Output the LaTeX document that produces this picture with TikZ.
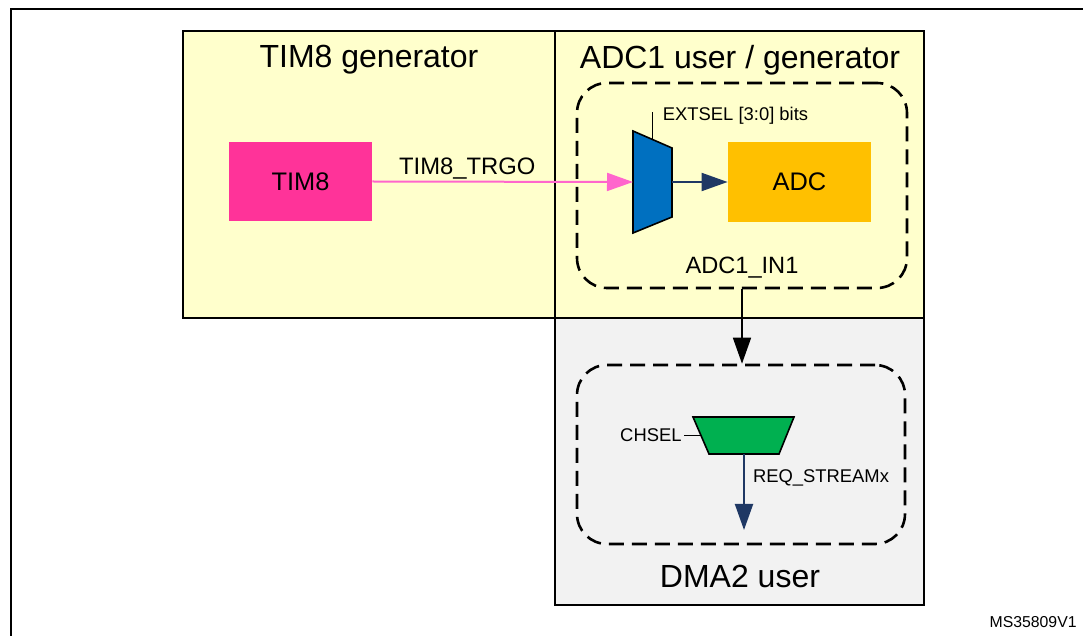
\documentclass[tikz,border=0pt]{standalone}
\usepackage{fontspec}
\setmainfont{Liberation Sans}
\usepackage{tikz}
\usetikzlibrary{positioning,arrows.meta}
\definecolor{panelyellow}{HTML}{FFFFCC}
\definecolor{panelgray}{HTML}{F2F2F2}
\definecolor{timpink}{HTML}{FF3399}
\definecolor{trgopink}{HTML}{FF66CC}
\definecolor{muxblue}{HTML}{0070C0}
\definecolor{adcorange}{HTML}{FFC000}
\definecolor{dmagreen}{HTML}{00B050}
\definecolor{linknavy}{HTML}{1F3864}

\begin{document}
\begin{tikzpicture}[x=0.5pt, y=-0.5pt,
  region/.style={draw, line width=0.8pt, minimum width=#1, minimum height=143.5pt, inner sep=0pt},
  block/.style={minimum width=71.5pt, minimum height=#1, inner sep=0pt, font=\fontsize{12.7}{15}\selectfont},
  title/.style={font=\fontsize{16}{19}\selectfont},
  small/.style={font=\fontsize{9.2}{11}\selectfont, inner sep=1pt},
  dashbox/.style={draw, line width=1.3pt, dash pattern=on 7.5pt off 4pt, rounded corners=15pt, inner sep=0pt},
  mux/.style={draw, line width=0.8pt},
  tip/.style={-{Triangle[length=13pt,width=9pt]}}
  ]
  \useasboundingbox (0,0) rectangle (1083,636);
  \clip (0,0) rectangle (1083,636);
  \draw[line width=1.2pt] (11,700) |- (1100,9);

  \node (timgen) [region=186pt, fill=panelyellow] at (369,174.5) {};
  \node (adcgen) [region=184.5pt, fill=panelyellow] at (739.5,174.5) {};
  \node (dmauser) [region=184.5pt, fill=panelgray] at (739.5,461.5) {};
  \node (timgentitle) [title] at (369,60) {TIM8 generator};
  \node (adcgentitle) [title] at (740,60) {ADC1 user / generator};
  \node (dmausertitle) [title] at (740,576) {DMA2 user};

  \node (adcgrp) [dashbox, minimum width=165pt, minimum height=102.5pt] at (742,185.5) {};
  \node (dmagrp) [dashbox, minimum width=164pt, minimum height=89.5pt] at (741,454.5) {};

  \node (tim8) [block=39.5pt, fill=timpink] at (300.5,181.5) {TIM8};
  \node (adc) [block=40pt, fill=adcorange] at (799.5,182) {ADC};

  % trapezoid selectors
  \draw[mux, fill=muxblue] (633,131) -- (672,148) -- (672,217) -- (633,233) -- cycle;
  \coordinate (extmuxin) at (633,182);
  \coordinate (extmuxout) at (672,182);
  \coordinate (extmuxsel) at (652.5,139.5);
  \draw[mux, fill=dmagreen] (693,417) -- (794,417) -- (779,454) -- (709,454) -- cycle;
  \coordinate (chmuxsel) at (701,435.5);
  \coordinate (chmuxout) at (744,454);

  \draw[tip, trgopink, line width=1pt] (tim8.east) -- node[pos=0.364, yshift=6.5pt, black, font=\fontsize{11.9}{14}\selectfont] {TIM8\_TRGO} (extmuxin);
  \draw[tip, linknavy, line width=1pt] (extmuxout) -- (adc.west);
  \draw[line width=0.8pt] (extmuxsel) -- ++(0,-27) coordinate (extselend);
  \node (extsel) [small, anchor=west] at ([xshift=4pt, yshift=-1.5pt]extselend) {EXTSEL [3:0] bits};
  \node (adcin) [font=\fontsize{11.8}{14}\selectfont] at ([yshift=11pt]adcgrp.south) {ADC1\_IN1};

  \draw[tip, line width=0.8pt] (adcgrp.south) -- (adcgrp.south |- dmagrp.north);

  \draw[line width=0.8pt] (chmuxsel) -- ++(-17,0) coordinate (chselend);
  \node (chsel) [small, anchor=east] at (chselend) {CHSEL};
  \coordinate (reqend) at (chmuxout |- 0,530);
  \draw[tip, linknavy, line width=1pt] (chmuxout) -- node[small, anchor=west, black, pos=0.32, xshift=3pt] {REQ\_STREAMx} (reqend);

  \node (figid) [anchor=east, font=\fontsize{7.9}{9}\selectfont, inner sep=0pt] at (1077,622) {MS35809V1};
\end{tikzpicture}
\end{document}
